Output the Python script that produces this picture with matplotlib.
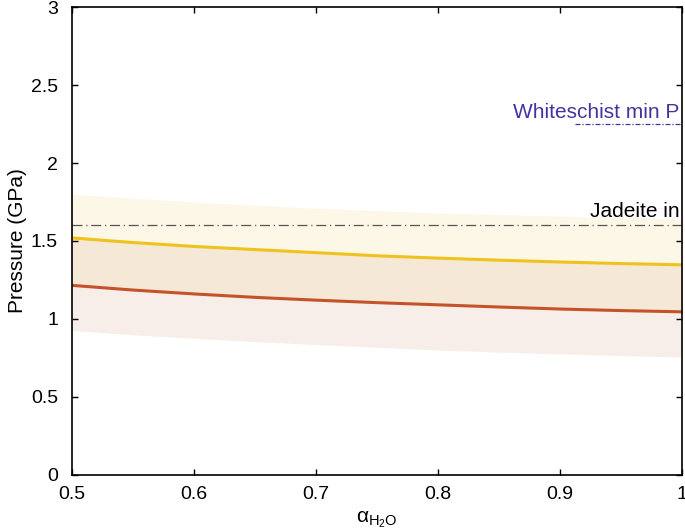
import numpy as np
import matplotlib.pyplot as plt

plt.rcParams['font.family'] = ['Liberation Sans', 'DejaVu Sans']
plt.rcParams['mathtext.fontset'] = 'custom'
plt.rcParams['mathtext.rm'] = 'Liberation Sans'
plt.rcParams['mathtext.it'] = 'Liberation Sans'

# water activity
a_h2o = [0.5, 0.55, 0.6, 0.65, 0.7, 0.75, 0.8, 0.85, 0.9, 0.95, 1.0]
# pressure curves (GPa)
p_yellow = [1.52, 1.49, 1.465, 1.445, 1.425, 1.405, 1.39, 1.377, 1.365, 1.355, 1.347]
p_red = [1.215, 1.185, 1.16, 1.138, 1.12, 1.104, 1.09, 1.076, 1.063, 1.053, 1.045]
# uncertainty envelope
p_upper = [1.80, 1.775, 1.75, 1.73, 1.71, 1.695, 1.68, 1.67, 1.66, 1.65, 1.64]
p_lower = [0.925, 0.898, 0.875, 0.854, 0.835, 0.817, 0.80, 0.787, 0.775, 0.765, 0.755]

jadeite_p = 1.6
whiteschist_p = 2.25
whiteschist_x0 = 0.912

fig, ax = plt.subplots(figsize=(6.85, 5.32), dpi=100)
fig.subplots_adjust(left=0.105, right=0.996, bottom=0.108, top=0.986)

ax.fill_between(a_h2o, p_yellow, p_upper, color='#fcf7e7', lw=0)
ax.fill_between(a_h2o, p_red, p_yellow, color='#f6e8d6', lw=0)
ax.fill_between(a_h2o, p_lower, p_red, color='#f7ede9', lw=0)

ax.plot(a_h2o, p_yellow, color='#efc21c', lw=2.2)
ax.plot(a_h2o, p_red, color='#c4532a', lw=2.2)

ax.axhline(jadeite_p, color='#555555', lw=0.9, ls=(0, (8, 3, 1, 3)))
ax.text(0.998, jadeite_p + 0.03, 'Jadeite in', ha='right', va='bottom', fontsize=15)

ax.plot([whiteschist_x0, 1.0], [whiteschist_p, whiteschist_p], color='#4433a0',
        lw=0.9, ls=(0, (4, 1.5, 1, 1.5)))
ax.text(0.998, whiteschist_p + 0.015, 'Whiteschist min P', ha='right', va='bottom',
        fontsize=15, color='#4433a0')

ax.set_xlim(0.5, 1.0)
ax.set_ylim(0, 3)
ax.set_xticks([0.5, 0.6, 0.7, 0.8, 0.9, 1.0])
ax.set_xticklabels(['0.5', '0.6', '0.7', '0.8', '0.9', '1'])
ax.set_yticks([0, 0.5, 1, 1.5, 2, 2.5, 3])
ax.set_yticklabels(['0', '0.5', '1', '1.5', '2', '2.5', '3'])
ax.tick_params(direction='in', top=True, right=True, labelsize=14, length=4, width=1)
ax.tick_params(axis='x', pad=8)
ax.tick_params(axis='y', pad=10)
for s in ax.spines.values():
    s.set_linewidth(1.2)

ax.set_ylabel('Pressure (GPa)', fontsize=15, labelpad=3)
ax.set_xlabel(r'$\alpha_{\mathrm{H_2O}}$', fontsize=15, labelpad=5)

plt.savefig('out.png')
